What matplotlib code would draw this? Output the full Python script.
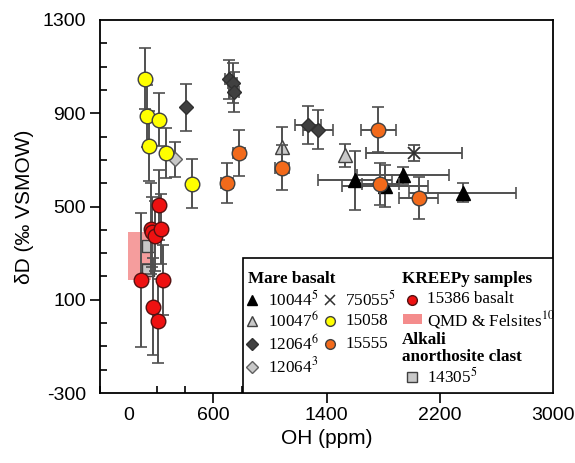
import matplotlib
matplotlib.use('Agg')
import matplotlib.pyplot as plt
from matplotlib.patches import Rectangle

plt.rcParams['font.family'] = ['Liberation Sans', 'DejaVu Sans']
plt.rcParams['mathtext.fontset'] = 'stix'
plt.rcParams['axes.unicode_minus'] = False

# Mare basalt 10044 (black triangles)
b10044_x = [1602, 1943, 1811, 2361]
b10044_y = [612, 633, 590, 559]
b10044_xe = [262, 325, 304, 378]
b10044_ye = [127, 36, 90, 40]

# Mare basalt 10047 (light grey triangles)
b10047_x = [1087, 1530]
b10047_y = [755, 719]
b10047_ye = [86, 50]

# 12064 ref 6 (dark diamonds)
d12064_x = [406, 714, 737, 749, 1271, 1341]
d12064_y = [925, 1045, 1030, 992, 848, 830]
d12064_xe = [0, 30, 30, 30, 93, 104]
d12064_ye = [100, 85, 85, 85, 82, 82]

# 12064 ref 3 (light diamond)
l12064_x = [327]
l12064_y = [702]
l12064_ye = [75]

# 75055 (cross)
c75055_x = [2017]
c75055_y = [729]
c75055_xe = [340]
c75055_ye = [33]

# 15058 (yellow)
y15058_x = [118, 134, 220, 146, 267, 447]
y15058_y = [1049, 887, 873, 758, 731, 598]
y15058_ye = [130, 133, 115, 150, 107, 104]

# 15555 (orange)
o15555_x = [784, 698, 1085, 1765, 1780, 2052]
o15555_y = [729, 602, 666, 830, 595, 537]
o15555_xe = [42, 40, 50, 123, 130, 139]
o15555_ye = [98, 85, 97, 95, 90, 90]

# 15386 basalt (red)
r15386_x = [220, 158, 169, 188, 234, 93, 248, 176, 211]
r15386_y = [507, 404, 389, 375, 404, 185, 185, 71, 7]
r15386_ye = [150, 195, 150, 150, 150, 288, 150, 210, 180]

# 14305 (grey squares)
s14305_x = [141, 141]
s14305_y = [329, 228]
s14305_ye = [25, 25]

# QMD & Felsites range
qmd_x = [0, 160]
qmd_y = [185, 390]

fig = plt.figure(figsize=(5.75, 4.63), dpi=100)
ax = fig.add_axes([100/575, 1-393/463, 453/575, 373/463])

ecol = '#505050'
ekw = dict(ecolor=ecol, elinewidth=1.4, capsize=4, capthick=1.2, linestyle='none')

ax.add_patch(Rectangle((qmd_x[0], qmd_y[0]), qmd_x[1]-qmd_x[0], qmd_y[1]-qmd_y[0],
                       facecolor='#f48c8c', edgecolor='none', alpha=0.85, zorder=1))

ax.errorbar(b10044_x, b10044_y, xerr=b10044_xe, yerr=b10044_ye, marker='^', ms=10,
            mfc='black', mec='black', zorder=3, **ekw)
ax.errorbar(b10047_x, b10047_y, yerr=b10047_ye, marker='^', ms=10,
            mfc='#c8c8c8', mec='#404040', zorder=3, **ekw)
ax.errorbar(d12064_x, d12064_y, xerr=d12064_xe, yerr=d12064_ye, marker='D', ms=7.5,
            mfc='#404040', mec='#303030', zorder=3, **ekw)
ax.errorbar(l12064_x, l12064_y, yerr=l12064_ye, marker='D', ms=7.5,
            mfc='#c8c8c8', mec='#606060', zorder=3, **ekw)
ax.errorbar(c75055_x, c75055_y, xerr=c75055_xe, yerr=c75055_ye, marker='x', ms=9,
            mec='#303030', mew=1.3, zorder=3, **ekw)
ax.errorbar(y15058_x, y15058_y, yerr=y15058_ye, marker='o', ms=10.5,
            mfc='#ffff00', mec='#404040', zorder=4, **ekw)
ax.errorbar(o15555_x, o15555_y, xerr=o15555_xe, yerr=o15555_ye, marker='o', ms=10.5,
            mfc='#f26a1b', mec='#404040', zorder=4, **ekw)
ax.errorbar(s14305_x, s14305_y, yerr=s14305_ye, marker='s', ms=9,
            mfc='#c8c8c8', mec='#404040', zorder=3, **ekw)
ax.errorbar(r15386_x, r15386_y, yerr=r15386_ye, marker='o', ms=10.5,
            mfc='#ee1111', mec='#551111', zorder=4, **ekw)

ax.set_xlim(-200, 3000)
ax.set_ylim(-300, 1300)
ax.set_xticks([0, 600, 1400, 2200, 3000])
ax.set_xticks([x for x in range(-200, 3001, 200) if x not in (600, 1400, 2200)], minor=True)
ax.set_yticks([-300, 100, 500, 900, 1300])
ax.set_yticks([y for y in range(-300, 1301, 100) if y not in (100, 500, 900)], minor=True)
ax.tick_params(which='major', direction='out', length=7, width=1.2, labelsize=14, pad=3)
ax.tick_params(which='minor', direction='in', length=5, width=1.2)
for t in (ax.xaxis.get_major_ticks()[0], ax.xaxis.get_major_ticks()[-1],
          ax.yaxis.get_major_ticks()[0], ax.yaxis.get_major_ticks()[-1]):
    t.tick1line.set_visible(False)
for s in ax.spines.values():
    s.set_linewidth(1.3)
ax.set_xlabel('OH (ppm)', fontsize=15, labelpad=4)
ax.set_ylabel('δD (‰ VSMOW)', fontsize=15, labelpad=6)

# legend box drawn in axes fraction
tr = ax.transAxes
ax.add_patch(Rectangle((0.316, 0), 0.684, 0.361, transform=tr, facecolor='white',
                       edgecolor='black', lw=1.2, zorder=10))
serif = dict(family='Liberation Serif', fontsize=12.3, va='center', ha='left',
             transform=tr, zorder=11)
ax.text(0.327, 0.306, 'Mare basalt', fontweight='bold', **serif)
ax.text(0.666, 0.306, 'KREEPy samples', fontweight='bold', **serif)
ax.text(0.666, 0.142, 'Alkali', fontweight='bold', **serif)
ax.text(0.666, 0.097, 'anorthosite clast', fontweight='bold', **serif)

rows = [0.249, 0.193, 0.131, 0.070]
leg1 = [('^', 'black', 'black', '10044$^{5}$'),
        ('^', '#c8c8c8', '#404040', '10047$^{6}$'),
        ('D', '#404040', '#303030', '12064$^{6}$'),
        ('D', '#c8c8c8', '#606060', '12064$^{3}$')]
for yy, (m, fc, ec, lab) in zip(rows, leg1):
    ax.plot([0.335], [yy], marker=m, ms=6 if m == 'D' else 7, mfc=fc, mec=ec,
            transform=tr, zorder=11, clip_on=False)
    ax.text(0.370, yy, lab, **serif)
ax.plot([0.507], [rows[0]], marker='x', ms=6.5, mec='#303030', mew=1.1, transform=tr, zorder=11)
ax.text(0.541, rows[0], '75055$^{5}$', **serif)
ax.plot([0.507], [rows[1]], marker='o', ms=7, mfc='#ffff00', mec='#404040', transform=tr, zorder=11)
ax.text(0.541, rows[1], '15058', **serif)
ax.plot([0.507], [rows[2]], marker='o', ms=7, mfc='#f26a1b', mec='#404040', transform=tr, zorder=11)
ax.text(0.541, rows[2], '15555', **serif)

ax.plot([0.688], [rows[0]], marker='o', ms=7, mfc='#ee1111', mec='#551111', transform=tr, zorder=11)
ax.text(0.722, rows[0] + 0.004, '15386 basalt', **serif)
ax.add_patch(Rectangle((0.669, 0.186), 0.042, 0.025, transform=tr, facecolor='#f48c8c',
                       edgecolor='none', zorder=11))
ax.text(0.722, 0.197, 'QMD & Felsites$^{10}$', **serif)
ax.plot([0.688], [0.043], marker='s', ms=6.5, mfc='#c8c8c8', mec='#404040', transform=tr, zorder=11)
ax.text(0.722, 0.043, '14305$^{5}$', **serif)

fig.savefig('out.png', dpi=100)
